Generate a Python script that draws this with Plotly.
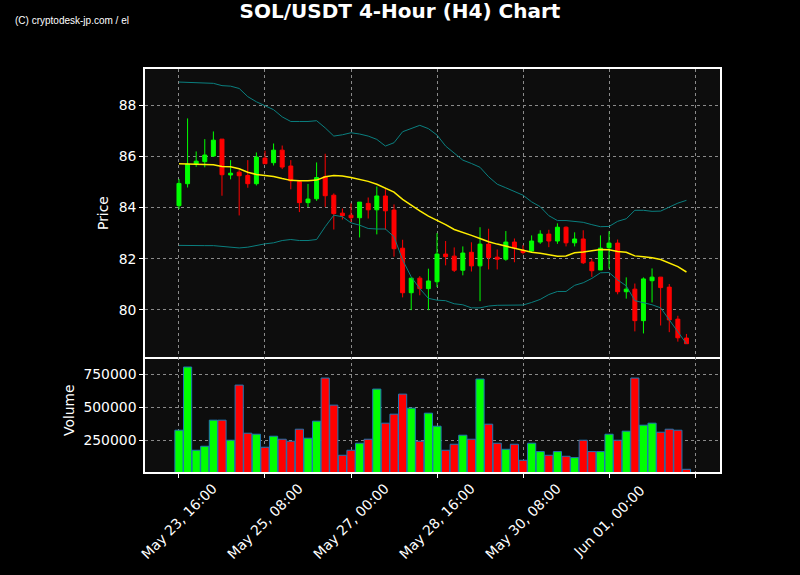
import plotly.graph_objects as go

# ---------------- data ----------------
opens = [84.07, 84.93, 85.70, 85.79, 86.01, 86.67, 85.27, 85.38, 85.25, 84.93,
         85.93, 85.75, 86.24, 85.62, 85.01, 84.19, 84.34, 85.21, 84.48, 83.78,
         83.70, 83.60, 84.16, 83.91, 84.45, 83.90, 82.41, 80.67, 81.24, 80.83,
         81.10, 82.18, 82.10, 81.55, 82.25, 81.72, 82.57, 82.06, 81.98, 82.65,
         82.33, 82.30, 82.65, 82.96, 82.69, 83.23, 82.62, 82.77, 81.87, 81.56,
         82.43, 82.61, 80.71, 80.81, 79.58, 81.14, 81.28, 80.89, 79.64, 78.90]
highs = [85.11, 87.48, 86.19, 86.67, 86.97, 86.67, 85.85, 85.46, 85.85, 86.15,
         86.22, 86.50, 86.42, 85.85, 85.01, 84.92, 85.76, 86.10, 84.55, 83.96,
         84.16, 84.21, 84.39, 84.82, 84.74, 84.12, 82.74, 81.24, 81.32, 81.61,
         83.00, 82.69, 82.44, 82.48, 82.64, 83.23, 83.17, 82.36, 83.08, 82.79,
         82.53, 82.91, 83.11, 83.13, 83.38, 83.26, 83.03, 83.11, 81.99, 82.91,
         83.07, 82.75, 81.27, 81.03, 81.27, 81.62, 81.28, 81.01, 79.77, 79.06]
lows = [83.94, 84.78, 85.59, 85.57, 85.98, 84.46, 85.10, 83.69, 84.77, 84.86,
        85.71, 85.64, 85.50, 84.71, 83.82, 84.02, 84.26, 84.02, 83.14, 83.53,
        83.43, 82.83, 83.57, 82.95, 83.13, 82.08, 80.49, 79.99, 80.57, 79.99,
        80.89, 81.74, 81.48, 81.35, 81.50, 80.34, 81.58, 81.58, 81.92, 81.86,
        82.17, 82.26, 82.58, 82.45, 82.58, 82.48, 82.48, 81.79, 81.29, 81.56,
        81.61, 80.61, 80.44, 79.16, 79.08, 80.29, 79.39, 79.13, 78.76, 78.68]
closes = [84.94, 85.70, 85.81, 86.05, 86.63, 85.28, 85.34, 85.24, 84.93, 85.97,
          85.71, 86.24, 85.58, 85.04, 84.19, 84.33, 85.17, 84.46, 83.76, 83.68,
          83.60, 84.21, 83.91, 84.45, 83.87, 82.39, 80.67, 81.24, 80.83, 81.13,
          82.18, 82.08, 81.55, 82.22, 81.72, 82.57, 82.04, 81.98, 82.65, 82.42,
          82.24, 82.69, 82.96, 82.69, 83.23, 82.62, 82.77, 81.84, 81.53, 82.41,
          82.61, 80.71, 80.81, 79.58, 81.21, 81.28, 80.87, 79.61, 78.91, 78.68]
ma_line = [85.71, 85.70, 85.68, 85.68, 85.67, 85.60, 85.59, 85.51, 85.38, 85.29,
           85.24, 85.21, 85.13, 85.06, 85.04, 85.04, 85.07, 85.20, 85.25, 85.23,
           85.17, 85.10, 85.02, 84.91, 84.76, 84.60, 84.32, 84.08, 83.87, 83.66,
           83.51, 83.33, 83.14, 83.01, 82.91, 82.79, 82.66, 82.57, 82.49, 82.43,
           82.34, 82.25, 82.21, 82.14, 82.10, 82.11, 82.23, 82.26, 82.30, 82.36,
           82.35, 82.28, 82.25, 82.11, 82.08, 82.04, 81.97, 81.84, 81.69, 81.48]
upper_band = [88.90, 88.89, 88.87, 88.86, 88.85, 88.76, 88.74, 88.65, 88.33, 88.13,
              87.97, 87.82, 87.54, 87.36, 87.36, 87.36, 87.39, 87.11, 86.79, 86.84,
              86.92, 86.87, 86.79, 86.66, 86.40, 86.53, 86.96, 87.09, 87.21, 87.08,
              86.83, 86.40, 86.11, 85.85, 85.72, 85.57, 85.20, 84.91, 84.77, 84.62,
              84.48, 84.22, 84.03, 83.68, 83.49, 83.49, 83.46, 83.42, 83.33, 83.25,
              83.26, 83.46, 83.56, 83.89, 83.89, 83.85, 83.86, 84.03, 84.17, 84.28]
lower_band = [82.52, 82.51, 82.51, 82.51, 82.51, 82.48, 82.45, 82.42, 82.45, 82.53,
              82.58, 82.62, 82.71, 82.75, 82.71, 82.71, 82.75, 83.25, 83.70, 83.64,
              83.40, 83.31, 83.18, 83.16, 83.16, 82.86, 81.95, 81.29, 80.83, 80.45,
              80.38, 80.36, 80.24, 80.20, 80.08, 80.08, 80.15, 80.18, 80.19, 80.19,
              80.19, 80.29, 80.41, 80.60, 80.72, 80.72, 80.96, 81.06, 81.23, 81.45,
              81.46, 81.17, 80.94, 80.36, 80.29, 80.20, 80.08, 79.60, 79.15, 78.68]
volumes = [325700, 803000, 174200, 204500, 401500, 401500, 250000, 666600, 303000, 295400,
           197000, 280300, 257600, 242400, 333300, 265100, 393900, 719600, 515100, 136400,
           174200, 227300, 257600, 636300, 378800, 446900, 598400, 492400, 242400, 454500,
           356000, 174200, 219700, 287900, 257600, 712100, 371200, 227300, 181800, 219700,
           98500, 227300, 164100, 136400, 164100, 128800, 118700, 250000, 164100, 164100,
           295400, 250000, 318200, 719600, 363600, 378800, 310600, 333300, 325700, 30300]
tick_positions = [0, 10, 20, 30, 40, 50, 60]
tick_labels = ["May 23, 16:00", "May 25, 08:00", "May 27, 00:00", "May 28, 16:00",
               "May 30, 08:00", "Jun 01, 00:00", ""]
price_ticks = [80, 82, 84, 86, 88]
volume_ticks = [250000, 500000, 750000]

idx = list(range(len(opens)))
GREEN = "#00ff00"
RED = "#ff0000"
vol_colors = [GREEN if c >= o else RED for o, c in zip(opens, closes)]

FONT = "DejaVu Sans"
W, H = 800, 575
L, R, T, B = 145, 80, 69, 103
plot_h = H - T - B
split = 115 / plot_h

fig = go.Figure()
band_col = "#0a7f7f"
fig.add_trace(go.Scatter(x=idx, y=upper_band, mode="lines", xaxis="x", yaxis="y",
                         line=dict(color=band_col, width=1), hoverinfo="skip"))
fig.add_trace(go.Scatter(x=idx, y=lower_band, mode="lines", xaxis="x", yaxis="y",
                         line=dict(color=band_col, width=1), hoverinfo="skip"))
fig.add_trace(go.Candlestick(x=idx, open=opens, high=highs, low=lows, close=closes,
                             xaxis="x", yaxis="y",
                             increasing=dict(line=dict(color=GREEN, width=1), fillcolor=GREEN),
                             decreasing=dict(line=dict(color=RED, width=1), fillcolor=RED),
                             whiskerwidth=0))
fig.add_trace(go.Scatter(x=idx, y=ma_line, mode="lines", xaxis="x", yaxis="y",
                         line=dict(color="#ffee00", width=1.5), hoverinfo="skip"))
fig.add_trace(go.Bar(x=idx, y=volumes, width=0.95, xaxis="x2", yaxis="y2",
                     marker=dict(color=vol_colors, line=dict(color="#1f77b4", width=1))))

xr = [-3.95, 62.9]
tickfont = dict(family=FONT, size=13.9, color="white")
common = dict(showline=True, linecolor="white", linewidth=1.5, mirror=True,
              showgrid=True, gridcolor="#8a8a8a", griddash="dot", gridwidth=1,
              zeroline=False, tickfont=tickfont, tickcolor="white", ticklen=4)

fig.update_layout(
    xaxis=dict(**common, domain=[0, 1], anchor="y", range=xr, tickvals=tick_positions,
               showticklabels=False, ticks="", rangeslider=dict(visible=False),
               matches="x2"),
    xaxis2=dict(**{**common, "mirror": False}, domain=[0, 1], anchor="y2", range=xr,
                tickvals=tick_positions, showticklabels=False, ticks="outside"),
    yaxis=dict(**common, domain=[split, 1], anchor="x", range=[78.16, 89.41],
               tickvals=price_ticks, ticks="outside"),
    yaxis2=dict(**common, domain=[0, split], anchor="x2", range=[10000, 878700],
                tickvals=volume_ticks, tickformat="d", ticks="outside"),
)

annotations = []
for pos, lab in zip(tick_positions, tick_labels):
    if lab:
        annotations.append(dict(x=pos, xref="x2", y=(472 - 521) / plot_h, yref="paper",
                                text=lab, textangle=-45, showarrow=False,
                                xanchor="center", yanchor="middle", font=tickfont))
annotations.append(dict(x=(103 - L) / (W - L - R), xref="paper", y=(472 - 213) / plot_h,
                        yref="paper", text="Price", textangle=-90, showarrow=False,
                        xanchor="center", yanchor="middle", font=tickfont))
annotations.append(dict(x=(69 - L) / (W - L - R), xref="paper", y=(472 - 410) / plot_h,
                        yref="paper", text="Volume", textangle=-90, showarrow=False,
                        xanchor="center", yanchor="middle", font=tickfont))
annotations.append(dict(x=(13 - L) / (W - L - R), xref="paper", y=(472 - 21) / plot_h,
                        yref="paper", text="(C) cryptodesk-jp.com / el", showarrow=False,
                        xanchor="left", yanchor="middle",
                        font=dict(family="Liberation Sans", size=10, color="white")))

fig.update_layout(
    width=W, height=H,
    margin=dict(l=L, r=R, t=T, b=B, autoexpand=False),
    paper_bgcolor="black", plot_bgcolor="#0d0d0d",
    boxgap=0.34, bargap=0.05,
    title=dict(text="<b>SOL/USDT 4-Hour (H4) Chart</b>", x=0.5, xanchor="center",
               xref="container", y=1 - 11 / H, yref="container", yanchor="middle",
               font=dict(family=FONT, size=20, color="white")),
    annotations=annotations,
    showlegend=False,
    hovermode=False,
)

fig.write_html("out.html", config={"displayModeBar": False},
               post_script="document.body.style.margin='0';document.body.style.overflow='hidden';")
